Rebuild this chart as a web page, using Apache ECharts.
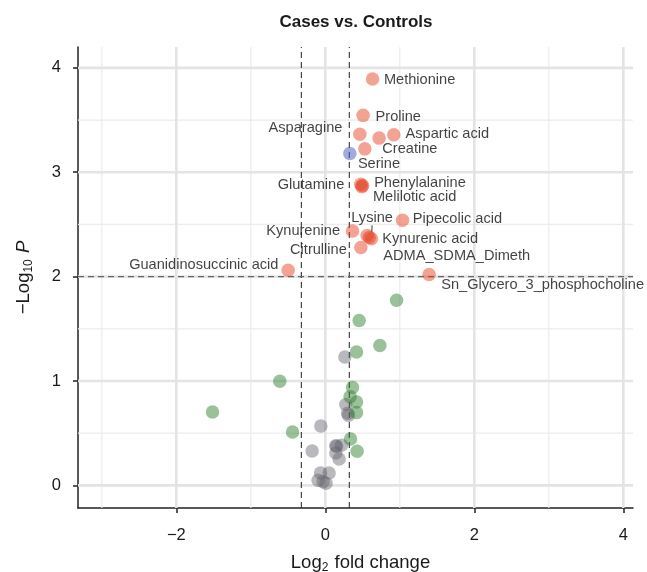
<!DOCTYPE html>
<html>
<head>
<meta charset="utf-8">
<script src="https://cdn.jsdelivr.net/npm/echarts@6/dist/echarts.min.js"></script>
<style>html,body{margin:0;padding:0;background:#fff}#c{width:647px;height:572px}</style>
</head>
<body>
<div id="c"></div>
<script>
// ---- data (log2 fold change, -log10 P) ----
const upNames = ['Methionine','Proline','Asparagine','','Aspartic acid','Creatine','Glutamine','Phenylalanine','Melilotic acid','Pipecolic acid','Kynurenine','Lysine','Kynurenic acid','ADMA_SDMA_Dimeth','Citrulline','Guanidinosuccinic acid','Sn_Glycero_3_phosphocholine'];
const upX = [0.634,0.507,0.463,0.722,0.919,0.530,0.475,0.500,0.490,1.036,0.365,0.620,0.561,0.590,0.477,-0.499,1.393];
const upY = [3.893,3.545,3.365,3.327,3.359,3.224,2.885,2.872,2.862,2.541,2.438,2.362,2.394,2.375,2.279,2.061,2.020];

const pOnlyNames = ['Serine'];
const pOnlyX = [0.329];
const pOnlyY = [3.180];

const fcOnlyX = [0.956,0.454,0.732,0.419,-0.611,0.365,0.333,0.419,0.419,-1.514,-0.440,0.338,0.427];
const fcOnlyY = [1.774,1.579,1.339,1.278,0.997,0.937,0.850,0.799,0.697,0.703,0.511,0.444,0.326];

const nsX = [0.262,0.275,0.311,0.300,-0.060,-0.177,0.150,0.140,0.217,0.141,0.185,-0.064,0.051,-0.097,-0.030,0.010];
const nsY = [1.230,0.774,0.671,0.690,0.569,0.329,0.374,0.380,0.384,0.310,0.252,0.118,0.118,0.048,0.035,0.020];

const xTicks = [-2,0,2,4];
const xMinor = [-3,-1,1,3];
const yTicks = [0,1,2,3,4];
const yMinor = [0.5,1.5,2.5,3.5];
const fcCut = 0.3219;
const pCut = 2;
const xRange = [-3.32, 4.13];
const yRange = [-0.217, 4.2];

// ---- label placement (style, separate from data) ----
// side, dx, dy, connector
const labelPlace = {
  'Methionine':['right',4.6,1],
  'Proline':['right',5.7,1.4],
  'Asparagine':['left',-10.7,-5.7],
  'Aspartic acid':['right',5,-0.7],
  'Creatine':['right',10.7,0],
  'Serine':['right',1.3,10.7],
  'Glutamine':['left',-9.7,0.5],
  'Phenylalanine':['right',4.8,-2.8],
  'Melilotic acid':['right',4.3,10.7],
  'Lysine':['right',-27,-21,true],
  'Pipecolic acid':['right',3.6,-1],
  'Kynurenine':['left',-5.7,0.3],
  'Kynurenic acid':['right',8.4,3],
  'Citrulline':['left',-7.3,2.7],
  'ADMA_SDMA_Dimeth':['right',7.3,18.5],
  'Guanidinosuccinic acid':['left',-3,-5],
  'Sn_Glycero_3_phosphocholine':['right',5.4,10.7]
};

const FONT = "'Liberation Sans', Arial, Helvetica, sans-serif";
const SYM = 13.5;

function pts(xs, ys, names){
  return xs.map((x,i)=>{
    const item = {value:[x, ys[i]]};
    const nm = names ? names[i] : '';
    if (nm) {
      const p = labelPlace[nm];
      item.name = nm;
      item.label = {show:true, formatter:nm, position:p[0], distance:0,
        fontSize:14.6, color:'#111', fontFamily:FONT};
      if (p[3]) {
        item.labelLine = {show:true, smooth:false, length2:0, lineStyle:{color:'#333', width:1}};
      }
    }
    return item;
  });
}
function moveLayout(names){
  return function(params){
    const nm = names[params.dataIndex];
    const p = nm && labelPlace[nm];
    if (p) return {dx:p[1], dy:p[2]};
    return {};
  };
}
function vlines(vals){
  const d=[]; vals.forEach(v=>{d.push([v,yRange[0]]);d.push([v,yRange[1]]);d.push('-');}); return d;
}
function hlines(vals){
  const d=[]; vals.forEach(v=>{d.push([xRange[0],v]);d.push([xRange[1],v]);d.push('-');}); return d;
}
function lineSeries(data, color, width, type, z){
  return {type:'line', data, showSymbol:false, silent:true, connectNulls:false, z,
    lineStyle:{color, width, type}, animation:false, clip:true};
}
const minus = v => v<0 ? '\u2212'+Math.abs(v) : String(v);

const chart = echarts.init(document.getElementById('c'), null, {renderer:'canvas'});
chart.setOption({
  animation:false,
  backgroundColor:'#fff',
  title:{text:'Cases vs. Controls', left:351, top:9, textAlign:'center',
    textStyle:{fontSize:17, fontWeight:'bold', color:'#1a1a1a', fontFamily:FONT}},
  grid:{left:78, right:14, top:47, bottom:64, containLabel:false, outerBoundsMode:'none'},
  xAxis:{type:'value', min:xRange[0], max:xRange[1],
    axisLine:{show:true, onZero:false, lineStyle:{color:'#222', width:1.5}},
    axisTick:{show:true, customValues:xTicks, length:5, lineStyle:{color:'#222', width:1.5}},
    axisLabel:{customValues:xTicks, formatter:minus, fontSize:16.5, color:'#1a1a1a', margin:19, fontFamily:FONT},
    splitLine:{show:false},
    name:'{a|Log}{s|2}{a| fold change}', nameLocation:'middle', nameGap:44,
    nameTextStyle:{padding:[0,0,0,10], rich:{a:{fontSize:18.5, color:'#1a1a1a', fontFamily:FONT, lineHeight:22},
      s:{fontSize:12, color:'#1a1a1a', fontFamily:FONT, verticalAlign:'bottom', lineHeight:15, padding:[9,1,0,0]}}}
  },
  yAxis:{type:'value', min:yRange[0], max:yRange[1],
    axisLine:{show:true, onZero:false, lineStyle:{color:'#222', width:1.5}},
    axisTick:{show:true, customValues:yTicks, length:5, lineStyle:{color:'#222', width:1.5}},
    axisLabel:{customValues:yTicks, formatter:minus, fontSize:16.5, color:'#1a1a1a', margin:17, fontFamily:FONT},
    splitLine:{show:false},
    name:'{a|\u2212Log}{s|10}{i| P}', nameLocation:'middle', nameGap:43,
    nameTextStyle:{rich:{a:{fontSize:18.5, color:'#1a1a1a', fontFamily:FONT, lineHeight:22},
      s:{fontSize:12, color:'#1a1a1a', fontFamily:FONT, verticalAlign:'bottom', lineHeight:15, padding:[9,1,0,0]},
      i:{fontSize:18.5, color:'#1a1a1a', fontFamily:FONT, fontStyle:'italic', lineHeight:22}}}
  },
  series:[
    lineSeries(vlines(xMinor), '#ececec', 1.2, 'solid', 0),
    lineSeries(hlines(yMinor), '#ececec', 1.2, 'solid', 0),
    lineSeries(vlines(xTicks), '#e4e4e4', 2.6, 'solid', 0),
    lineSeries(hlines(yTicks), '#e4e4e4', 2.6, 'solid', 0),
    lineSeries(vlines([-fcCut, fcCut]), '#333', 1.1, [6,4], 1),
    lineSeries(hlines([pCut]), '#666', 1.4, [6,4], 1),
    {type:'scatter', name:'NS', data:pts(nsX, nsY), symbolSize:SYM, z:3,
      itemStyle:{color:'rgba(95,95,105,0.55)'}},
    {type:'scatter', name:'Log2FC', data:pts(fcOnlyX, fcOnlyY), symbolSize:SYM, z:3,
      itemStyle:{color:'rgba(45,125,45,0.6)'}},
    {type:'scatter', name:'p', data:pts(pOnlyX, pOnlyY, pOnlyNames), symbolSize:SYM, z:4,
      itemStyle:{color:'rgba(70,95,190,0.65)'},
      labelLayout: moveLayout(pOnlyNames)},
    {type:'scatter', name:'p and FC', data:pts(upX, upY, upNames), symbolSize:SYM, z:4,
      itemStyle:{color:'rgba(228,62,32,0.6)'},
      labelLayout: moveLayout(upNames)}
  ]
});
</script>
</body>
</html>
